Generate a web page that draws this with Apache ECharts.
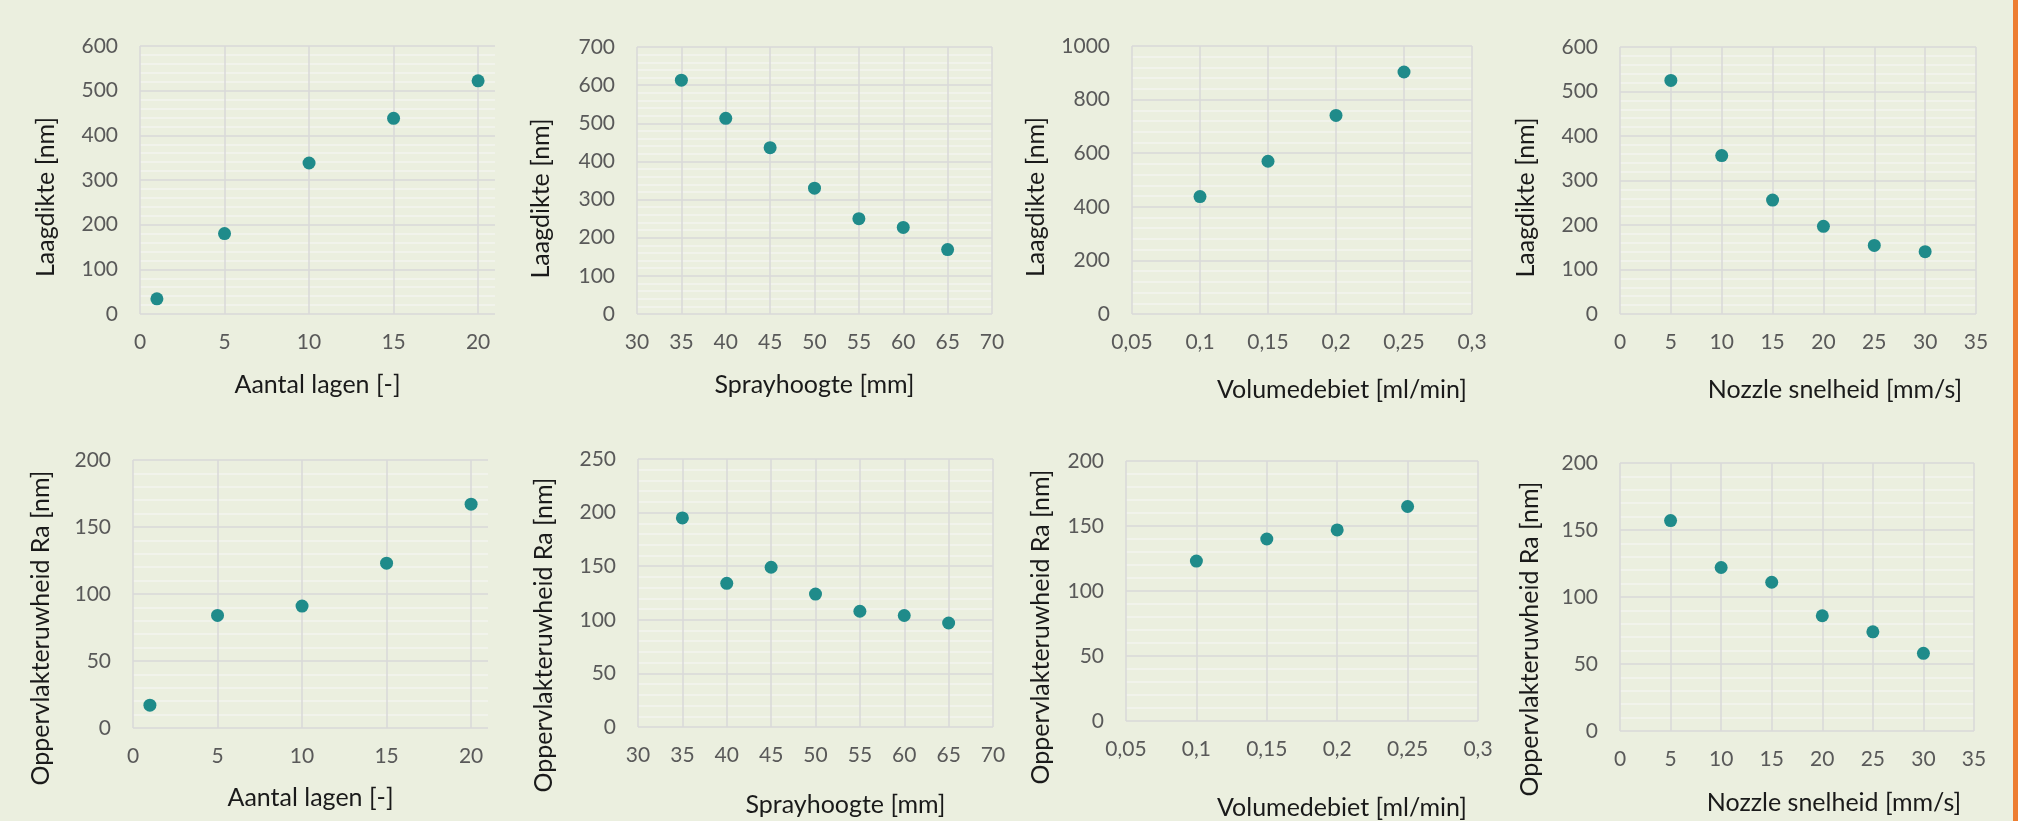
<!doctype html>
<html>
<head>
<meta charset="utf-8">
<title>Laagdikte en oppervlakteruwheid</title>
<style>
  html, body { margin: 0; padding: 0; background: #ebefdf; }
  #main { width: 2018px; height: 821px; }
  .rand { position: absolute; top: 0; right: 0; width: 5px; height: 821px; background: #ed7d31; }
</style>
</head>
<body>
<div id="main"></div>
<div class="rand"></div>
<script src="https://cdn.jsdelivr.net/npm/echarts@6/dist/echarts.min.js"></script>
<script>
// meetwaarden
var lagenX = [1, 5, 10, 15, 20];
var lagenDikte = [34, 180, 338, 438, 522];
var lagenRa = [17, 84, 91, 123, 167];

var hoogteX = [35, 40, 45, 50, 55, 60, 65];
var hoogteDikte = [613, 513, 436, 330, 250, 227, 169];
var hoogteRa = [195, 134, 149, 124, 108, 104, 97];

var debietX = [0.1, 0.15, 0.2, 0.25];
var debietDikte = [438, 570, 741, 903];
var debietRa = [123, 140, 147, 165];

var snelheidX = [5, 10, 15, 20, 25, 30];
var snelheidDikte = [525, 356, 256, 197, 154, 140];
var snelheidRa = [157, 122, 111, 86, 74, 58];

// as-titels
var xTitels = ['Aantal lagen [-]', 'Sprayhoogte [mm]', 'Volumedebiet [ml/min]', 'Nozzle snelheid [mm/s]'];
var yTitels = ['Laagdikte [nm]', 'Oppervlakteruwheid Ra [nm]'];

// asbereik per kolom: [min, max, stap]
var xBereik = [[0, 21, 5], [30, 70, 5], [0.05, 0.3, 0.05], [0, 35, 5]];
// asbereik per grafiek (boven: laagdikte, onder: Ra): [max, stap]
var yBereik = [[600, 100], [700, 100], [1000, 200], [600, 100],
               [200, 50], [250, 50], [200, 50], [200, 50]];

var xWaarden = [lagenX, hoogteX, debietX, snelheidX];
var yWaarden = [lagenDikte, hoogteDikte, debietDikte, snelheidDikte,
                lagenRa, hoogteRa, debietRa, snelheidRa];

// plaats van elke plot: left, top, width, height, xNaamGap, xNaamShift, yNaamGap, yNaamShift
var vlakken = [
  [140, 46, 355, 268, 58, 0, 82, 17],
  [637, 47, 355, 267, 58, 0, 84, 18],
  [1132, 46, 340, 268, 63, 40, 84, 17],
  [1620, 47, 356, 267, 63, 37, 82, 17],
  [133, 460, 355, 268, 57, 0, 80, 34],
  [638, 459, 355, 268, 65, 30, 82, 42],
  [1126, 461, 352, 267, 74, 40, 73, 36],
  [1620, 463, 354, 268, 59, 37, 78, 42]
];

var font = 'Lato, "Open Sans", sans-serif';
var grids = [], xAxes = [], yAxes = [], series = [];

for (var i = 0; i < 8; i++) {
  var k = i % 4;
  var v = vlakken[i];
  grids.push({ left: v[0], top: v[1], width: v[2], height: v[3], containLabel: false });

  xAxes.push({
    gridIndex: i,
    type: 'value',
    min: xBereik[k][0],
    max: xBereik[k][1],
    interval: xBereik[k][2],
    name: xTitels[k],
    nameLocation: 'middle',
    nameGap: v[4],
    nameTextStyle: { fontFamily: font, fontSize: 25, color: '#1a1a1a', padding: [0, 0, 0, v[5] * 2] },
    axisLine: { show: false },
    axisTick: { show: false },
    axisLabel: {
      fontFamily: font, fontSize: 21, color: '#595959', margin: 18,
      showMaxLabel: k === 0 ? false : true,
      formatter: function (val) { return String(+val.toFixed(2)).replace('.', ','); }
    },
    splitLine: { show: true, showMaxLine: k !== 0, lineStyle: { color: '#d9d9d9', width: 1.5 } }
  });

  yAxes.push({
    gridIndex: i,
    type: 'value',
    min: 0,
    max: yBereik[i][0],
    interval: yBereik[i][1],
    name: yTitels[i < 4 ? 0 : 1],
    nameLocation: 'middle',
    nameGap: v[6],
    nameTextStyle: { fontFamily: font, fontSize: 25, color: '#1a1a1a', padding: [0, v[7] * 2, 0, 0] },
    axisLine: { show: false },
    axisTick: { show: false },
    axisLabel: {
      fontFamily: font, fontSize: 21, color: '#595959', margin: 22,
      formatter: function (val) { return String(val); }
    },
    splitLine: { show: true, lineStyle: { color: '#d9d9d9', width: 1.5 } },
    minorTick: { show: false, splitNumber: 5 },
    minorSplitLine: { show: true, lineStyle: { color: '#f4f5ef', width: 1.5 } }
  });

  var punten = [];
  for (var j = 0; j < xWaarden[k].length; j++) {
    punten.push([xWaarden[k][j], yWaarden[i][j]]);
  }
  series.push({
    type: 'scatter',
    xAxisIndex: i,
    yAxisIndex: i,
    symbol: 'circle',
    symbolSize: 13,
    itemStyle: { color: '#1f8b8a', opacity: 1 },
    data: punten
  });
}

var myChart = echarts.init(document.getElementById('main'));
myChart.setOption({
  backgroundColor: '#ebefdf',
  animation: false,
  grid: grids,
  xAxis: xAxes,
  yAxis: yAxes,
  series: series
});
</script>
</body>
</html>
